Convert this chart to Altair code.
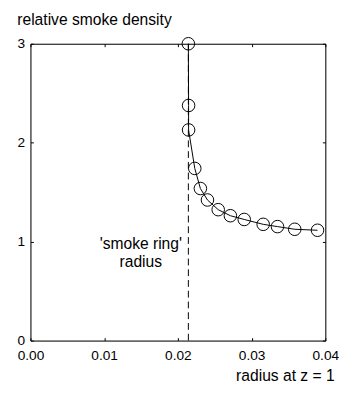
import altair as alt
import pandas as pd

# data
radius = [0.02142, 0.02145, 0.02145, 0.02229, 0.02305, 0.02401, 0.02547,
          0.02712, 0.02900, 0.03157, 0.03351, 0.03585, 0.03894]
density = [3.0, 2.376, 2.129, 1.740, 1.537, 1.421, 1.323,
           1.262, 1.224, 1.175, 1.152, 1.125, 1.115]

ring_radius = 0.02142
ring_bottom = 0.0
ring_top = 3.0

ann_text = ["'smoke ring'", "radius"]
ann_x = [0.01497, 0.01497]
ann_y = [0.928, 0.747]

x_ticks = [0.0, 0.01, 0.02, 0.03, 0.04]
y_ticks = [0, 1, 2, 3]

FONT = "Liberation Sans"

df = pd.DataFrame({"r": radius, "d": density})
ring = pd.DataFrame({"r": [ring_radius], "y0": [ring_bottom], "y1": [ring_top]})
ann = pd.DataFrame({"t": ann_text, "x": ann_x, "y": ann_y})

xscale = alt.Scale(domain=[0, 0.04], nice=False, zero=False)
yscale = alt.Scale(domain=[0, 3], nice=False, zero=False)

inward = {"expr": "-3"}
common = dict(grid=False, domain=True, domainColor="black", domainWidth=1,
              ticks=True, tickSize=inward, tickColor="black", tickWidth=1)

x_axis = alt.Axis(values=x_ticks, format=".2f", orient="bottom", **common,
                  labelFontSize=14, labelFont=FONT, labelColor="black",
                  labelPadding=11, labelFlush=False,
                  title="radius at z = 1", titleFont=FONT, titleFontSize=16,
                  titleFontWeight="normal", titleColor="black",
                  titleAlign="right", titleX=311, titleY=41,
                  titleBaseline="alphabetic")
y_axis = alt.Axis(values=y_ticks, format="d", orient="left", **common,
                  labelFontSize=14, labelFont=FONT, labelColor="black",
                  labelPadding=9, labelBaseline="middle",
                  title="relative smoke density", titleFont=FONT,
                  titleFontSize=16, titleFontWeight="normal",
                  titleColor="black", titleAngle=0, titleAlign="left",
                  titleX=-14, titleY=-20, titleBaseline="alphabetic")
x_top = alt.Axis(values=x_ticks, orient="top", **common,
                 labels=False, title=None)
y_right = alt.Axis(values=y_ticks, orient="right", **common,
                   labels=False, title=None)

line = alt.Chart(df).mark_line(color="black", strokeWidth=1).encode(
    x=alt.X("r:Q", scale=xscale, axis=x_axis),
    y=alt.Y("d:Q", scale=yscale, axis=y_axis),
    order=alt.Order("d:Q", sort="descending"),
)

points = alt.Chart(df).mark_point(filled=False, color="black", size=165,
                                  strokeWidth=1, opacity=1).encode(
    x=alt.X("r:Q", scale=xscale, axis=None),
    y=alt.Y("d:Q", scale=yscale, axis=None),
)

dashed = alt.Chart(ring).mark_rule(color="black", strokeWidth=1,
                                   strokeDash=[7, 4]).encode(
    x=alt.X("r:Q", scale=xscale, axis=x_top),
    y=alt.Y("y0:Q", scale=yscale, axis=y_right),
    y2="y1:Q",
)

text = alt.Chart(ann).mark_text(font=FONT, fontSize=16, color="black",
                                align="center", baseline="alphabetic").encode(
    x=alt.X("x:Q", scale=xscale, axis=None),
    y=alt.Y("y:Q", scale=yscale, axis=None),
    text="t:N",
)

chart = alt.layer(line, points, dashed, text).resolve_axis(
    x="independent", y="independent"
).properties(
    width=302, height=304,
    autosize=alt.AutoSizeParams(type="none"),
    padding={"left": 23, "top": 32, "right": 14, "bottom": 46},
).configure_view(stroke=None).configure(background="white")

chart.save("out.html", embed_options={"renderer": "svg", "actions": False})
